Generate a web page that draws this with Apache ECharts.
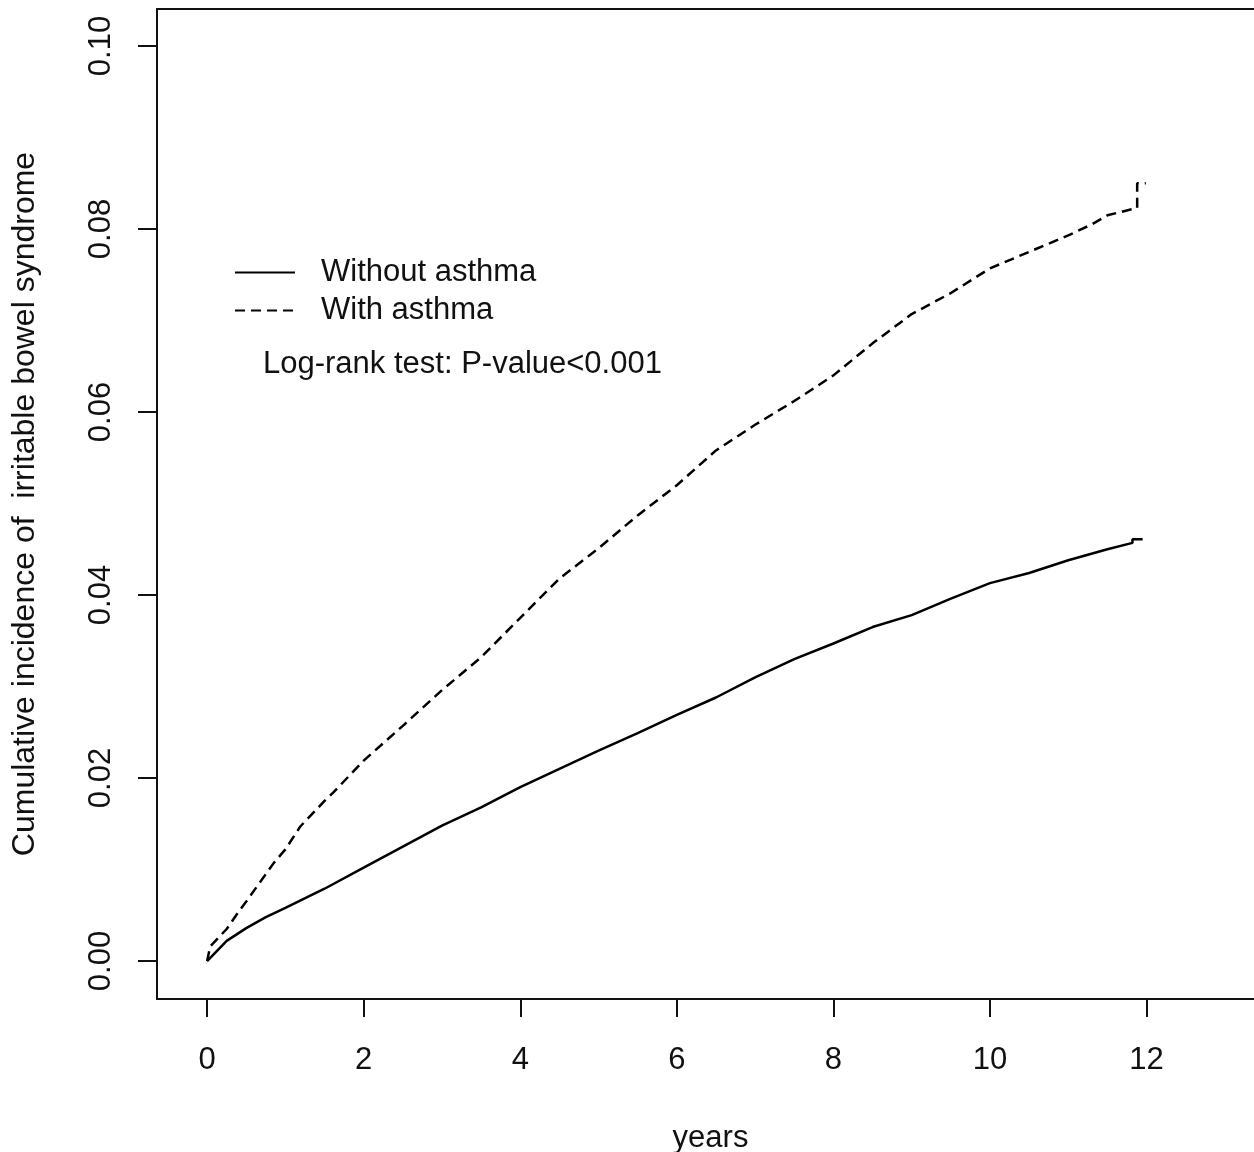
<!DOCTYPE html>
<html>
<head>
<meta charset="utf-8">
<title>Cumulative incidence of IBS</title>
<script src="https://cdn.jsdelivr.net/npm/echarts@6/dist/echarts.min.js"></script>
<style>
  html, body { margin: 0; padding: 0; background: #fff; }
  #chart { width: 1254px; height: 1152px; }
</style>
</head>
<body>
<div id="chart"></div>
<script>
// tick labels
var xTicks = [0, 2, 4, 6, 8, 10, 12]
var yTicks = [0, 0.02, 0.04, 0.06, 0.08, 0.10]

// without asthma (solid)
var timeWithout = [0, 0.25, 0.5, 0.75, 1.0, 1.5, 2.0, 2.5, 3.0, 3.5, 4.0, 4.5, 5.0, 5.5, 6.0, 6.5, 7.0, 7.5, 8.0, 8.5, 9.0, 9.5, 10.0, 10.5, 11.0, 11.5, 11.82, 11.82, 11.95]
var cumWithout = [0, 0.0022, 0.0036, 0.0048, 0.0058, 0.0079, 0.0102, 0.0125, 0.0148, 0.0168, 0.0190, 0.0210, 0.0230, 0.0249, 0.0269, 0.0288, 0.0310, 0.0330, 0.0347, 0.0365, 0.0378, 0.0396, 0.0413, 0.0424, 0.0438, 0.0450, 0.0457, 0.0461, 0.0461]

// with asthma (dashed)
var timeWith = [0, 0.04, 0.25, 0.42, 0.5, 0.85, 1.0, 1.19, 1.5, 1.61, 2.0, 2.5, 3.0, 3.5, 4.0, 4.5, 5.0, 5.5, 6.0, 6.5, 7.0, 7.5, 8.0, 8.5, 9.0, 9.5, 10.0, 10.5, 11.0, 11.3, 11.5, 11.88, 11.88, 11.99]
var cumWith = [0, 0.0016, 0.0035, 0.0056, 0.0065, 0.0107, 0.0122, 0.0147, 0.0175, 0.0184, 0.0219, 0.0257, 0.0296, 0.0332, 0.0375, 0.0418, 0.0451, 0.0487, 0.0520, 0.0558, 0.0586, 0.0612, 0.0640, 0.0675, 0.0707, 0.0730, 0.0757, 0.0775, 0.0793, 0.0805, 0.0815, 0.0823, 0.0850, 0.0850]

function pairs(xs, ys) {
  return xs.map(function (x, i) { return [x, ys[i]] })
}

var font = 'Liberation Sans'
var ink = '#111'

var chart = echarts.init(document.getElementById('chart'))
chart.setOption({
  animation: false,
  backgroundColor: '#fff',
  grid: {
    left: 157,
    top: 9,
    bottom: 153,
    right: -10,
    show: true,
    borderColor: ink,
    borderWidth: 2,
    containLabel: false,
    outerBoundsMode: 'none'
  },
  legend: {
    orient: 'vertical',
    left: 229,
    top: 252,
    itemWidth: 60,
    itemHeight: 14,
    itemGap: 7,
    itemStyle: { opacity: 0, color: 'rgba(0,0,0,0)', borderWidth: 0 },
    textStyle: {
      fontFamily: font,
      fontSize: 31,
      lineHeight: 31,
      color: ink,
      padding: [0, 0, 0, 21]
    },
    data: ['Without asthma', 'With asthma']
  },
  graphic: [{
    type: 'text',
    left: 263,
    top: 349,
    style: {
      text: 'Log-rank test: P-value<0.001',
      font: '31px "Liberation Sans"',
      fill: ink
    }
  }],
  xAxis: {
    type: 'value',
    min: -0.64,
    max: 13.5,
    name: 'years',
    nameLocation: 'middle',
    nameGap: 124,
    nameTextStyle: { fontFamily: font, fontSize: 31, color: ink },
    axisLine: { show: false, onZero: false },
    splitLine: { show: false },
    axisTick: {
      show: true,
      length: 18,
      customValues: xTicks,
      lineStyle: { color: ink, width: 2 }
    },
    axisLabel: {
      customValues: xTicks,
      margin: 46,
      fontFamily: font,
      fontSize: 31,
      color: ink
    }
  },
  yAxis: {
    type: 'value',
    min: -0.00415,
    max: 0.10404,
    name: 'Cumulative incidence of  irritable bowel syndrome',
    nameLocation: 'middle',
    nameGap: 116,
    nameTextStyle: { fontFamily: font, fontSize: 32, color: ink },
    axisLine: { show: false, onZero: false },
    splitLine: { show: false },
    axisTick: {
      show: true,
      length: 19,
      customValues: yTicks,
      lineStyle: { color: ink, width: 2 }
    },
    axisLabel: {
      customValues: yTicks,
      rotate: 90,
      margin: 40,
      fontFamily: font,
      fontSize: 31,
      color: ink,
      formatter: function (v) { return v.toFixed(2) }
    }
  },
  series: [
    {
      name: 'Without asthma',
      type: 'line',
      symbol: 'none',
      data: pairs(timeWithout, cumWithout),
      lineStyle: { color: '#000', width: 2.5, type: 'solid' },
      itemStyle: { color: '#000' }
    },
    {
      name: 'With asthma',
      type: 'line',
      symbol: 'none',
      data: pairs(timeWith, cumWith),
      lineStyle: { color: '#000', width: 2.5, type: [10, 6] },
      itemStyle: { color: '#000' }
    }
  ]
})
</script>
</body>
</html>
